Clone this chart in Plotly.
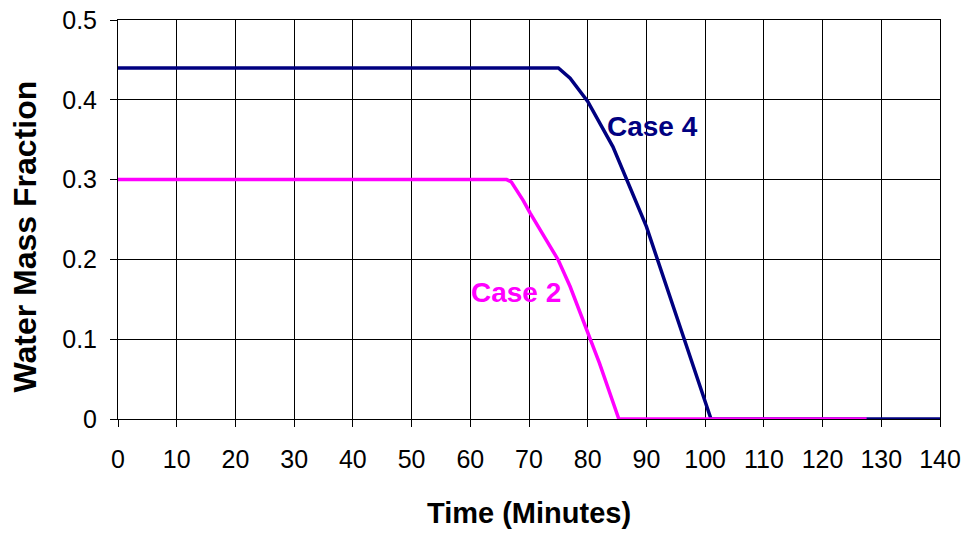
import plotly.graph_objects as go

# Case 4 (navy) and Case 2 (magenta) water mass fraction vs time
case4_time = [0, 75, 77, 80, 84.3, 90, 96.3, 101, 140]
case4_frac = [0.44, 0.44, 0.427, 0.398, 0.341, 0.241, 0.103, 0.0, 0.0]

case2_time = [0, 66.2, 67, 69, 70.2, 71.9, 73.6, 75, 77, 80, 82, 85.3, 127.5]
case2_frac = [0.30, 0.30, 0.297, 0.274, 0.258, 0.237, 0.216, 0.199, 0.166, 0.107, 0.07, 0.0, 0.0]

x_ticks = list(range(0, 141, 10))
y_ticks = [0, 0.1, 0.2, 0.3, 0.4, 0.5]
y_labels = ['0', '0.1', '0.2', '0.3', '0.4', '0.5']

NAVY = '#000080'
MAGENTA = '#FF00FF'
FONT = 'Liberation Sans, Arial'

fig = go.Figure()
fig.add_trace(go.Scatter(x=case4_time, y=case4_frac, mode='lines',
                         line=dict(color=NAVY, width=3.5), name='Case 4'))
fig.add_trace(go.Scatter(x=case2_time, y=case2_frac, mode='lines',
                         line=dict(color=MAGENTA, width=3.5), name='Case 2'))

# inline labels next to the curves
fig.add_annotation(x=91.1, y=0.366, text='<b>Case 4</b>', showarrow=False,
                   font=dict(color=NAVY, size=28, family=FONT))
fig.add_annotation(x=67.7, y=0.158, text='<b>Case 2</b>', showarrow=False,
                   font=dict(color=MAGENTA, size=28, family=FONT))

# y title as an annotation so it can sit close to the left edge
fig.add_annotation(xref='paper', yref='paper', x=0, y=0.5, xshift=-94, yshift=-17,
                   text='<b>Water Mass Fraction</b>', textangle=-90, showarrow=False,
                   xanchor='center', yanchor='middle',
                   font=dict(size=32, family=FONT, color='black'))

fig.update_layout(
    width=969, height=533,
    margin=dict(l=118, r=29, t=20, b=114),
    plot_bgcolor='white', paper_bgcolor='white',
    showlegend=False,
    font=dict(family=FONT, size=25, color='black'),
    xaxis=dict(range=[0, 140], tickvals=x_ticks, showgrid=True, gridcolor='black',
               gridwidth=1, zeroline=False, showline=True, mirror=True, linecolor='black',
               linewidth=1, ticks='outside', ticklen=7, tickcolor='black',
               ticklabelstandoff=11, ticklabeloverflow='allow', automargin=False,
               title=dict(text='<b>Time (Minutes)</b>', font=dict(size=29), standoff=30)),
    yaxis=dict(range=[0, 0.5], tickvals=y_ticks, ticktext=y_labels,
               showgrid=True, gridcolor='black', gridwidth=1, zeroline=False,
               showline=True, mirror=True, linecolor='black', linewidth=1, ticks='outside',
               ticklen=7, tickcolor='black', ticklabelstandoff=8,
               ticklabeloverflow='allow', automargin=False),
)

# drop the default body margin so the figure fills the window exactly
fig.write_html("out.html", config={'displayModeBar': False},
               post_script="document.body.style.margin='0';document.body.style.overflow='hidden';")
